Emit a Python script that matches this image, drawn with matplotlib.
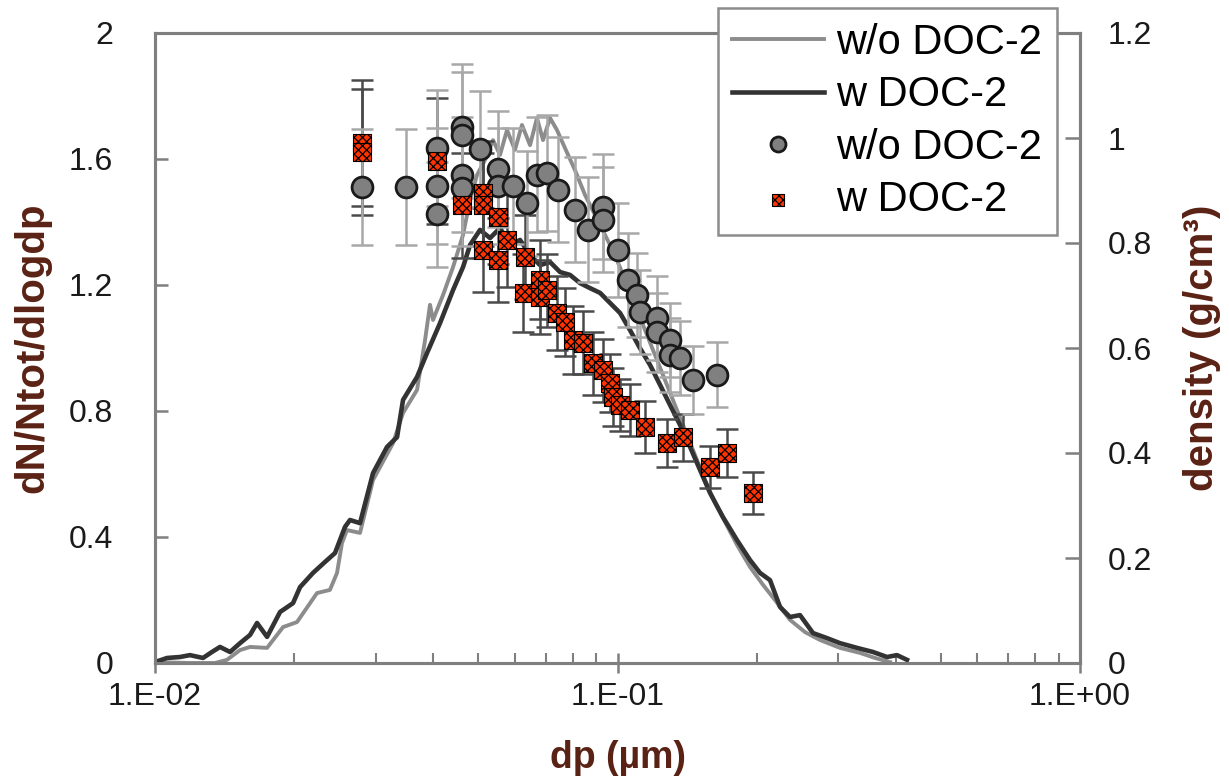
import matplotlib
matplotlib.use("Agg")
import matplotlib.pyplot as plt

# normalised size distribution, dN/Ntot/dlogdp (left axis)
dp_wo = [0.0100, 0.0119, 0.01348, 0.01431, 0.01527, 0.01605, 0.01747, 0.01892, 0.02028,
         0.02240, 0.02389, 0.02475, 0.02537, 0.02600, 0.02775, 0.02961, 0.03271, 0.03438,
         0.03686, 0.03836, 0.03932, 0.03991, 0.04195, 0.04410, 0.04635, 0.04799, 0.04969,
         0.05171, 0.05381, 0.05572, 0.05769, 0.06002, 0.06215, 0.06470, 0.06697, 0.06902,
         0.07148, 0.07398, 0.07698, 0.08090, 0.08506, 0.08944, 0.09398, 0.09876, 0.1038,
         0.1091, 0.1147, 0.1205, 0.1267, 0.1331, 0.1399, 0.1471, 0.1546, 0.1625, 0.1708,
         0.1813, 0.1934, 0.2064, 0.2190, 0.2360, 0.2544, 0.2741, 0.3027, 0.3345, 0.3605,
         0.3883]
dn_wo = [0.003, 0.0, 0.0, 0.010, 0.041, 0.051, 0.048, 0.114, 0.130,
         0.222, 0.232, 0.286, 0.381, 0.422, 0.413, 0.581, 0.698, 0.794,
         0.867, 1.025, 1.137, 1.089, 1.168, 1.257, 1.359, 1.470, 1.549,
         1.597, 1.660, 1.613, 1.692, 1.629, 1.708, 1.644, 1.730, 1.660,
         1.730, 1.692, 1.635, 1.565, 1.486, 1.422, 1.359, 1.295, 1.216,
         1.137, 1.057, 0.978, 0.898, 0.819, 0.740, 0.660, 0.581, 0.508, 0.448,
         0.375, 0.305, 0.248, 0.200, 0.137, 0.098, 0.073, 0.048, 0.032, 0.016,
         0.003]

dp_w = [0.0100, 0.01062, 0.01132, 0.01190, 0.01270, 0.01328, 0.01382, 0.01453, 0.01527,
        0.01605, 0.01662, 0.01747, 0.01864, 0.01988, 0.02059, 0.02196, 0.02332, 0.02450,
        0.02575, 0.02640, 0.02775, 0.02961, 0.03175, 0.03337, 0.03438, 0.03686, 0.03874,
        0.04133, 0.04410, 0.04635, 0.04799, 0.05044, 0.05302, 0.05572, 0.05857, 0.06156,
        0.06470, 0.06801, 0.07148, 0.07513, 0.07896, 0.08299, 0.08723, 0.09168, 0.09636,
        0.1013, 0.1064, 0.1118, 0.1176, 0.1236, 0.1299, 0.1365, 0.1435, 0.1508, 0.1585,
        0.1691, 0.1813, 0.1934, 0.2033, 0.2137, 0.2246, 0.2360, 0.2481, 0.2647, 0.2838,
        0.3027, 0.3295, 0.3568, 0.3826, 0.4021, 0.4226]
dn_w = [0.003, 0.016, 0.019, 0.025, 0.016, 0.035, 0.051, 0.035, 0.063,
        0.089, 0.127, 0.083, 0.162, 0.190, 0.241, 0.286, 0.321, 0.349,
        0.432, 0.454, 0.444, 0.603, 0.686, 0.717, 0.835, 0.908, 0.984,
        1.079, 1.184, 1.257, 1.327, 1.375, 1.349, 1.381, 1.327, 1.343,
        1.295, 1.263, 1.273, 1.241, 1.232, 1.206, 1.190, 1.175, 1.143,
        1.111, 1.057, 1.000, 0.946, 0.883, 0.819, 0.756, 0.686, 0.613, 0.540,
        0.463, 0.390, 0.327, 0.286, 0.263, 0.178, 0.146, 0.152, 0.095, 0.079,
        0.063, 0.048, 0.035, 0.019, 0.025, 0.010]

# effective density (right axis)
dp_rho_wo = [0.02803, 0.03489, 0.04072, 0.04072, 0.04072, 0.04612, 0.04612, 0.04612,
             0.04612, 0.05044, 0.05516, 0.05516, 0.05942, 0.06372, 0.06697, 0.07040,
             0.07435, 0.08090, 0.08632, 0.09302, 0.09302, 0.1003, 0.1054, 0.1102,
             0.1118, 0.1217, 0.1217, 0.1299, 0.1299, 0.1365, 0.1456, 0.1641]
rho_wo = [0.907, 0.907, 0.981, 0.909, 0.855, 1.021, 1.006, 0.930,
          0.905, 0.979, 0.941, 0.909, 0.909, 0.876, 0.930, 0.933,
          0.901, 0.863, 0.825, 0.869, 0.844, 0.787, 0.730, 0.701,
          0.669, 0.657, 0.630, 0.615, 0.587, 0.581, 0.539, 0.549]
rho_wo_err = [0.11, 0.11, 0.11, 0.11, 0.10, 0.12, 0.12, 0.11,
              0.11, 0.11, 0.11, 0.11, 0.11, 0.10, 0.11, 0.11,
              0.10, 0.10, 0.10, 0.10, 0.10, 0.09, 0.09, 0.08,
              0.08, 0.08, 0.075, 0.07, 0.07, 0.07, 0.065, 0.062]

dp_rho_w = [0.02803, 0.02803, 0.04072, 0.04612, 0.05120, 0.05120, 0.05516, 0.05769,
            0.05120, 0.05516, 0.0631, 0.0626, 0.06799, 0.06799, 0.0704, 0.07398,
            0.07698, 0.0801, 0.08418, 0.08851, 0.09302, 0.09634, 0.09779, 0.1013,
            0.1064, 0.1147, 0.1279, 0.1386, 0.1585, 0.1725, 0.1963]
rho_w = [0.990, 0.973, 0.956, 0.872, 0.895, 0.872, 0.850, 0.806,
         0.787, 0.768, 0.773, 0.705, 0.730, 0.697, 0.710, 0.667,
         0.650, 0.615, 0.610, 0.571, 0.558, 0.533, 0.507, 0.491,
         0.482, 0.450, 0.419, 0.430, 0.373, 0.400, 0.324]
rho_w_err = [0.12, 0.12, 0.12, 0.10, 0.10, 0.10, 0.09, 0.09,
             0.08, 0.08, 0.08, 0.075, 0.075, 0.07, 0.07, 0.07,
             0.065, 0.065, 0.06, 0.06, 0.06, 0.055, 0.055, 0.05,
             0.05, 0.05, 0.045, 0.045, 0.04, 0.045, 0.04]

x_major = [0.01, 0.1, 1.0]
x_major_labels = ["1.E-02", "1.E-01", "1.E+00"]
y_left_ticks = [0, 0.4, 0.8, 1.2, 1.6, 2.0]
y_right_ticks = [0, 0.2, 0.4, 0.6, 0.8, 1.0, 1.2]

plt.rcParams['font.family'] = ['Liberation Sans', 'DejaVu Sans']
plt.rcParams['hatch.linewidth'] = 0.9
plt.rcParams['hatch.color'] = 'black'

spine_col = '#7f7f7f'
label_col = '#5a2214'

fig = plt.figure(figsize=(12.29, 7.80), dpi=100)
ax = fig.add_axes([155 / 1229, 1 - 663 / 780, 925 / 1229, 630 / 780])
ax2 = ax.twinx()

l1, = ax.plot(dp_wo, dn_wo, color='#8c8c8c', lw=2.8, zorder=2)
l2, = ax.plot(dp_w, dn_w, color='#333333', lw=3.3, zorder=3)

ax2.errorbar(dp_rho_w, rho_w, yerr=rho_w_err, fmt='none', ecolor='#4a4a4a',
             elinewidth=1.8, capsize=8, capthick=1.8, zorder=1)
ax2.errorbar(dp_rho_wo, rho_wo, yerr=rho_wo_err, fmt='none', ecolor='#a8a8a8',
             elinewidth=1.8, capsize=8, capthick=1.8, zorder=1)
m1, = ax2.plot(dp_rho_wo, rho_wo, 'o', ms=15, mfc='#808080', mec='#1a1a1a', mew=2.0,
               ls='none', zorder=3)
m2 = ax2.scatter(dp_rho_w, rho_w, marker='s', s=160, facecolor='#ff3300',
                 edgecolor='black', linewidth=0.8, hatch='xxxx', zorder=4)

ax.set_xscale('log')
ax.set_xlim(0.01, 1.0)
ax.set_ylim(0, 2)
ax2.set_ylim(0, 1.2)

ax.set_xticks(x_major, x_major_labels)
ax.set_xticks([k * 0.01 for k in range(2, 10)] + [k * 0.1 for k in range(2, 10)], minor=True)
ax.xaxis.set_minor_formatter(plt.NullFormatter())
ax.set_yticks(y_left_ticks, ['%g' % v for v in y_left_ticks])
ax2.set_yticks(y_right_ticks, ['%g' % v for v in y_right_ticks])

for a in (ax, ax2):
    for s in a.spines.values():
        s.set_color(spine_col)
        s.set_linewidth(2.2)

ax.tick_params(axis='x', which='major', direction='inout', length=14, width=1.8,
               color=spine_col, labelsize=23, labelcolor='#1a1a1a', pad=7)
ax.tick_params(axis='x', which='minor', direction='in', length=7, width=1.5, color=spine_col)
ax.tick_params(axis='y', direction='in', length=9, width=1.8, color=spine_col,
               labelsize=23, labelcolor='#1a1a1a', pad=30)
ax2.tick_params(axis='y', direction='in', length=11, width=1.8, color=spine_col,
                labelsize=23, labelcolor='#1a1a1a', pad=20)

ax.set_xlabel('dp (µm)', fontsize=27, fontweight='bold', color=label_col)
ax.xaxis.set_label_coords(0.5, -0.122)
ax.set_ylabel('dN/Ntot/dlogdp', fontsize=29, fontweight='bold', color=label_col)
ax.yaxis.set_label_coords(-0.112, 0.5)
ax2.set_ylabel('density (g/cm³)', fontsize=29, fontweight='bold', color=label_col)
ax2.yaxis.set_label_coords(1.111, 0.5)

leg = ax2.legend([l1, l2, m1, m2], ['w/o DOC-2', 'w DOC-2', 'w/o DOC-2', 'w DOC-2'],
                 loc='upper right', bbox_to_anchor=(1057 / 1229, 772 / 780),
                 bbox_transform=fig.transFigure, borderaxespad=0, fontsize=30,
                 handlelength=2.2, handletextpad=0.3, labelspacing=0.3,
                 borderpad=0.35, markerscale=0.72, fancybox=False,
                 edgecolor='#8c8c8c', framealpha=1)
leg.get_frame().set_linewidth(1.8)
leg.set_zorder(10)

fig.savefig('out.png', dpi=100)
